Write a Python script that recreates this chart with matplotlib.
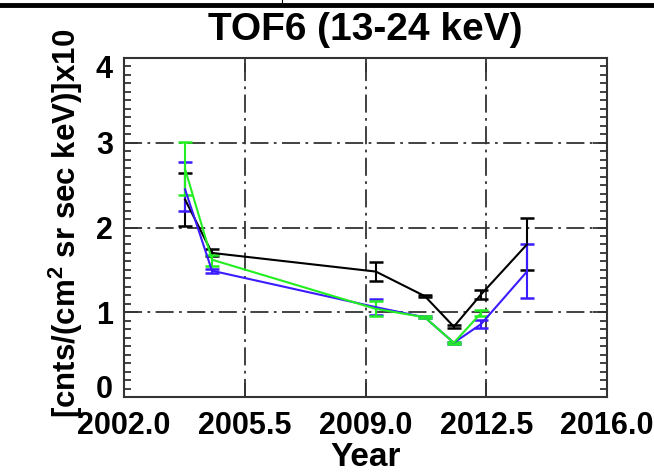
import numpy as np
import matplotlib
matplotlib.use("Agg")
import matplotlib.pyplot as plt
import matplotlib.transforms as mtransforms
from matplotlib.lines import Line2D
from matplotlib.ticker import MultipleLocator

plt.rcParams["font.family"] = ["Liberation Sans", "DejaVu Sans"]
plt.rcParams["font.weight"] = "bold"
plt.rcParams["mathtext.fontset"] = "custom"
plt.rcParams["mathtext.rm"] = "Liberation Sans:bold"
plt.rcParams["mathtext.bf"] = "Liberation Sans:bold"
plt.rcParams["mathtext.default"] = "bf"

# data
years = [2003.77, 2004.55, 2009.30, 2010.72, 2011.56, 2012.35, 2013.68]

black = [2.33, 1.70, 1.48, 1.19, 0.83, 1.21, 1.80]
black_lo = [0.31, 0.04, 0.11, 0.015, 0.015, 0.055, 0.30]
black_hi = [0.31, 0.05, 0.11, 0.015, 0.015, 0.055, 0.31]

blue = [2.45, 1.49, 1.06, 0.94, 0.64, 0.86, 1.48]
blue_lo = [0.26, 0.025, 0.09, 0.01, 0.01, 0.05, 0.31]
blue_hi = [0.32, 0.025, 0.10, 0.01, 0.01, 0.05, 0.32]

green_years = years[:6]
green = [2.69, 1.62, 1.04, 0.94, 0.64, 0.99]
green_lo = [0.31, 0.07, 0.09, 0.01, 0.01, 0.04]
green_hi = [0.32, 0.06, 0.09, 0.01, 0.01, 0.04]

xticks = [2002.0, 2005.5, 2009.0, 2012.5, 2016.0]
xticklabels = ["2002.0", "2005.5", "2009.0", "2012.5", "2016.0"]
yticks = [0, 1, 2, 3, 4]

BLUE = "#3a1cff"
GREEN = "#22ee22"
GRID = "#333333"

fig = plt.figure(figsize=(6.54, 4.75), dpi=100)
ax = fig.add_axes([124 / 654, 1 - 397 / 475, 483 / 654, 339 / 475])

series = [
    (years, black, black_lo, black_hi, "k"),
    (years, blue, blue_lo, blue_hi, BLUE),
    (green_years, green, green_lo, green_hi, GREEN),
]
for x, y, lo, hi, c in series:
    ax.errorbar(x, y, yerr=[lo, hi], color=c, linewidth=1.5,
                elinewidth=1.5, capsize=5, capthick=1.8, zorder=3)

ax.set_xlim(2002.0, 2016.0)
ax.set_ylim(0, 4)
ax.set_xticks(xticks)
ax.set_xticklabels(xticklabels)
ax.set_yticks(yticks)
ax.yaxis.set_minor_locator(MultipleLocator(0.1))

ax.grid(True, which="major", color=GRID, linewidth=1.3,
        linestyle=(0, (10, 3, 1.5, 3)))
for s in ax.spines.values():
    s.set_color(GRID)
    s.set_linewidth(1.5)

ax.tick_params(axis="both", which="both", direction="in", top=True,
               right=True, color=GRID, width=1.3, labelsize=22)
ax.tick_params(axis="both", which="major", length=10)
ax.tick_params(axis="x", which="major", pad=10)
ax.tick_params(axis="y", which="major", pad=8)
ax.tick_params(axis="y", which="minor", length=5)
ax.tick_params(axis="x", which="minor", bottom=False, top=False)

# the outer y labels sit pulled in toward the middle in the reference
fig.canvas.draw()
ylabels = ax.get_yticklabels()
shifts = {0: 10, 4: -8}
for lab, v in zip(ylabels, yticks):
    if v in shifts:
        off = mtransforms.ScaledTranslation(0, shifts[v] / 100, fig.dpi_scale_trans)
        lab.set_transform(lab.get_transform() + off)

ax.set_title("TOF6 (13-24 keV)", fontsize=28, fontweight="bold", pad=13)
ax.set_xlabel("Year", fontsize=24, fontweight="bold", labelpad=1)
fig.text(66 / 654, 1 - 418 / 475, r"[cnts/(cm$^{2}$ sr sec keV)]x10",
         rotation=90, ha="center", va="bottom", fontsize=22.5,
         fontweight="bold")

# cropped frame remnant at the top of the image
fig.add_artist(Line2D([0, 1], [1 - 5 / 475, 1 - 5 / 475],
                      transform=fig.transFigure, color="k", linewidth=3.5))
fig.add_artist(Line2D([282 / 654, 282 / 654], [1, 1 - 3 / 475],
                      transform=fig.transFigure, color="k", linewidth=0.8))

fig.savefig("out.png", dpi=100)
